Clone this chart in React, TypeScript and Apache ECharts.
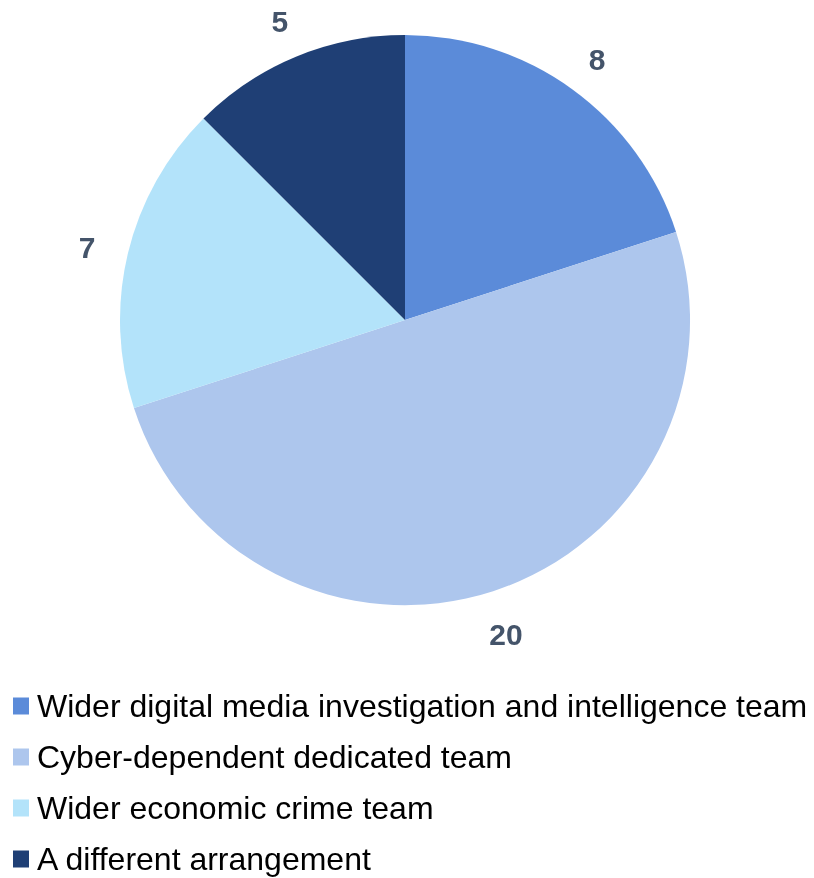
import React, { useEffect, useRef } from "react";
import * as echarts from "echarts";

const categories = [
  "Wider digital media investigation and intelligence team",
  "Cyber-dependent dedicated team",
  "Wider economic crime team",
  "A different arrangement",
];
const values = [8, 20, 7, 5];
const colors = ["#5B8BD9", "#ADC6ED", "#B3E3FA", "#1F3F75"];

export default function App() {
  const ref = useRef<HTMLDivElement>(null);
  useEffect(() => {
    if (!ref.current) return;
    const chart = echarts.init(ref.current, undefined, { renderer: "svg" });
    const data = categories.map((name, i) => ({ name, value: values[i] }));
    chart.setOption({
      animation: false,
      color: colors,
      legend: {
        orient: "vertical",
        left: 13,
        top: 690,
        height: 400,
        padding: 0,
        icon: "rect",
        itemWidth: 16,
        itemHeight: 17,
        itemGap: 19,
        textStyle: {
          fontFamily: "Liberation Sans, Arial, sans-serif",
          fontSize: 32,
          lineHeight: 32,
          color: "#000000",
          padding: [0, 0, 0, 3],
        },
        data: categories,
      },
      series: [
        {
          type: "pie",
          center: [405, 320],
          radius: 285,
          startAngle: 90,
          clockwise: true,
          label: { show: false },
          labelLine: { show: false },
          emphasis: { disabled: true },
          data,
        },
        {
          type: "pie",
          center: [405, 320],
          radius: [306, 342],
          startAngle: 90,
          clockwise: true,
          silent: true,
          itemStyle: { color: "rgba(0,0,0,0)" },
          label: {
            show: true,
            position: "inside",
            formatter: "{c}",
            offset: [0, 4],
            fontFamily: "Liberation Sans, Arial, sans-serif",
            fontSize: 30,
            fontWeight: "bold",
            color: "#44546A",
          },
          labelLine: { show: false },
          emphasis: { disabled: true },
          data,
        },
      ],
    });
    return () => chart.dispose();
  }, []);
  return (
    <div
      ref={ref}
      style={{ position: "fixed", left: 0, top: 0, width: 814, height: 878 }}
    />
  );
}
